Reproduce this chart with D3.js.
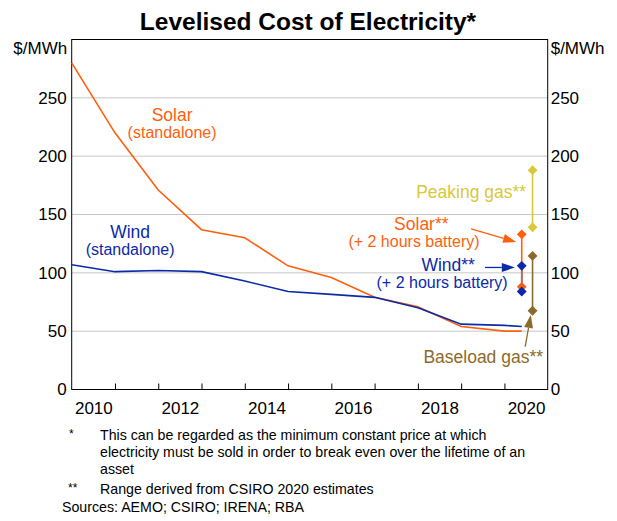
<!DOCTYPE html>
<html>
<head>
<meta charset="utf-8">
<script src="https://cdn.jsdelivr.net/npm/d3@7"></script>
<style>
  body { margin: 0; background: #fff; }
  svg { font-family: "Liberation Sans", Arial, sans-serif; }
</style>
</head>
<body>
<svg width="617" height="521"></svg>
<script>
// series (annual, plus a final point for 2020)
const years = [2010, 2011, 2012, 2013, 2014, 2015, 2016, 2017, 2018, 2019, 2020, 2020.4];
const solarValues = [280, 220, 171, 137, 130, 106, 96, 79, 71, 54, 50, 50];
const windValues = [107, 101, 102, 101, 93, 84, 81.5, 79, 70, 56, 55, 54];

// CSIRO 2020 ranges
const rangeNames = ["Wind", "Solar", "Peaking gas", "Baseload gas"];
const rangeYears = [2020.4, 2020.4, 2020.65, 2020.65];
const rangeLow = [84, 88, 139, 67.5];
const rangeHigh = [106, 133, 188, 114.5];

const yTicks = [0, 50, 100, 150, 200, 250];
const xTickYears = [2010, 2012, 2014, 2016, 2018, 2020];

const colors = {
  "Solar": "#ff5f0f",
  "Wind": "#0b2aa8",
  "Peaking gas": "#d8c83a",
  "Baseload gas": "#8b6b2b"
};

const chartMargin = {top: 39.5, right: 69.3, bottom: 131.5, left: 71.7};

var svg = d3.select("svg"),
    width = +svg.attr("width") - chartMargin.left - chartMargin.right,
    height = +svg.attr("height") - chartMargin.top - chartMargin.bottom;

var x = d3.scaleLinear().domain([2010, 2021]).range([chartMargin.left, chartMargin.left + width]);
var y = d3.scaleLinear().domain([0, 300]).range([chartMargin.top + height, chartMargin.top]);

// title
svg.append("text")
   .attr("x", 308).attr("y", 30)
   .attr("text-anchor", "middle")
   .attr("font-size", 24.5).attr("font-weight", "bold")
   .text("Levelised Cost of Electricity*");

// gridlines
svg.append("g")
   .selectAll("line")
   .data(yTicks.slice(1))
   .join("line")
   .attr("x1", x(2010)).attr("x2", x(2021))
   .attr("y1", d => y(d)).attr("y2", d => y(d))
   .attr("stroke", "#c6c6c6").attr("stroke-width", 1);

// y axes both sides
function customYAxis(g) {
  g.select(".domain").remove();
  g.selectAll(".tick text").attr("font-size", 17).attr("fill", "#000").attr("font-family", null);
}
svg.append("g")
   .attr("transform", "translate(" + x(2010) + ",0)")
   .call(d3.axisLeft(y).tickValues(yTicks).tickSize(0).tickPadding(5))
   .call(customYAxis);
svg.append("g")
   .attr("transform", "translate(" + x(2021) + ",0)")
   .call(d3.axisRight(y).tickValues(yTicks).tickSize(0).tickPadding(3))
   .call(customYAxis);

svg.append("text").attr("x", x(2010) - 4.5).attr("y", y(300) + 14)
   .attr("text-anchor", "end").attr("font-size", 17).text("$/MWh");
svg.append("text").attr("x", x(2021) + 3).attr("y", y(300) + 14)
   .attr("font-size", 17).text("$/MWh");

// x axis: ticks at year boundaries, labels mid-year
svg.append("g")
   .attr("transform", "translate(0," + y(0) + ")")
   .call(d3.axisBottom(x).tickValues(d3.range(2011, 2021)).tickSize(-6).tickFormat(""))
   .call(g => { g.select(".domain").remove(); g.selectAll(".tick line").attr("stroke", "#000"); });
svg.append("g")
   .attr("transform", "translate(0," + y(0) + ")")
   .call(d3.axisBottom(x).tickValues(xTickYears.map(d => d + 0.5)).tickSize(0).tickPadding(12.7)
           .tickFormat(d => String(Math.floor(d))))
   .call(g => {
     g.select(".domain").remove();
     g.selectAll(".tick text").attr("font-size", 17).attr("fill", "#000").attr("font-family", null);
   });

// frame
svg.append("rect")
   .attr("x", x(2010)).attr("y", y(300))
   .attr("width", x(2021) - x(2010)).attr("height", y(0) - y(300))
   .attr("fill", "none").attr("stroke", "#000").attr("stroke-width", 1);

// lines
var line = d3.line().x((d, i) => x(years[i])).y(d => y(d));
[["Solar", solarValues], ["Wind", windValues]].forEach(function(s) {
  svg.append("path")
     .attr("d", line(s[1]))
     .attr("fill", "none")
     .attr("stroke", colors[s[0]])
     .attr("stroke-width", 1.6);
});

// ranges
var ranges = rangeNames.map((n, i) => ({name: n, year: rangeYears[i], low: rangeLow[i], high: rangeHigh[i]}));
var diamond = d3.symbol().type(d3.symbolDiamond2).size(62);
ranges.forEach(function(r) {
  svg.append("line")
     .attr("x1", x(r.year)).attr("x2", x(r.year))
     .attr("y1", y(r.low)).attr("y2", y(r.high))
     .attr("stroke", colors[r.name]).attr("stroke-width", 1.6);
});
// draw solar diamonds first so wind sits on top
[1, 0, 2, 3].forEach(function(i) {
  var r = ranges[i];
  [r.low, r.high].forEach(function(v) {
    svg.append("path")
       .attr("d", diamond())
       .attr("transform", "translate(" + x(r.year) + "," + y(v) + ")")
       .attr("fill", colors[r.name]);
  });
});

// labels
const labels = [
  {text: "Solar", series: "Solar", year: 2012.32, value: 230, size: 17.5},
  {text: "(standalone)", series: "Solar", year: 2012.32, value: 215.5, size: 16},
  {text: "Wind", series: "Wind", year: 2011.35, value: 130, size: 17.5},
  {text: "(standalone)", series: "Wind", year: 2011.35, value: 115.5, size: 16},
  {text: "Solar**", series: "Solar", year: 2018.08, value: 136.5, size: 17.5},
  {text: "(+ 2 hours battery)", series: "Solar", year: 2017.91, value: 121.8, size: 16},
  {text: "Wind**", series: "Wind", year: 2018.70, value: 101.5, size: 17.5},
  {text: "(+ 2 hours battery)", series: "Wind", year: 2018.56, value: 86.6, size: 16},
  {text: "Peaking gas**", series: "Peaking gas", year: 2019.23, value: 164, size: 17.5},
  {text: "Baseload gas**", series: "Baseload gas", year: 2019.51, value: 22.7, size: 17.5}
];
svg.append("g")
   .selectAll("text")
   .data(labels)
   .join("text")
   .attr("x", d => x(d.year)).attr("y", d => y(d.value))
   .attr("text-anchor", "middle")
   .attr("font-size", d => d.size)
   .attr("fill", d => colors[d.series])
   .text(d => d.text);

// arrows
const arrows = [
  {series: "Solar", from: [2019.23, 137.6], to: [2020.27, 126.4]},
  {series: "Wind", from: [2019.55, 104.6], to: [2020.24, 104.6]},
  {series: "Baseload gas", from: [2020.48, 36.7], to: [2020.61, 63.9]}
];
arrows.forEach(function(a) {
  var x1 = x(a.from[0]), y1 = y(a.from[1]), x2 = x(a.to[0]), y2 = y(a.to[1]);
  var len = Math.hypot(x2 - x1, y2 - y1), ux = (x2 - x1) / len, uy = (y2 - y1) / len;
  var headLen = 13, headHalf = 4.5;
  var bx = x2 - ux * headLen, by = y2 - uy * headLen;
  svg.append("line")
     .attr("x1", x1).attr("y1", y1).attr("x2", bx).attr("y2", by)
     .attr("stroke", colors[a.series]).attr("stroke-width", 1.3);
  svg.append("path")
     .attr("d", "M" + x2 + "," + y2 + "L" + (bx - uy * headHalf) + "," + (by + ux * headHalf) +
                "L" + (bx + uy * headHalf) + "," + (by - ux * headHalf) + "Z")
     .attr("fill", colors[a.series]);
});

// footnotes
var notes = svg.append("g").attr("font-size", 14.2).attr("fill", "#000");
notes.append("text").attr("x", 69).attr("y", 438).attr("font-size", 12).text("*");
notes.append("text").attr("x", 100).attr("y", 440).text("This can be regarded as the minimum constant price at which");
notes.append("text").attr("x", 100).attr("y", 457).text("electricity must be sold in order to break even over the lifetime of an");
notes.append("text").attr("x", 100).attr("y", 474).text("asset");
notes.append("text").attr("x", 68).attr("y", 492).attr("font-size", 12).text("**");
notes.append("text").attr("x", 100).attr("y", 494).text("Range derived from CSIRO 2020 estimates");
notes.append("text").attr("x", 62).attr("y", 512).text("Sources: AEMO; CSIRO; IRENA; RBA");
</script>
</body>
</html>
